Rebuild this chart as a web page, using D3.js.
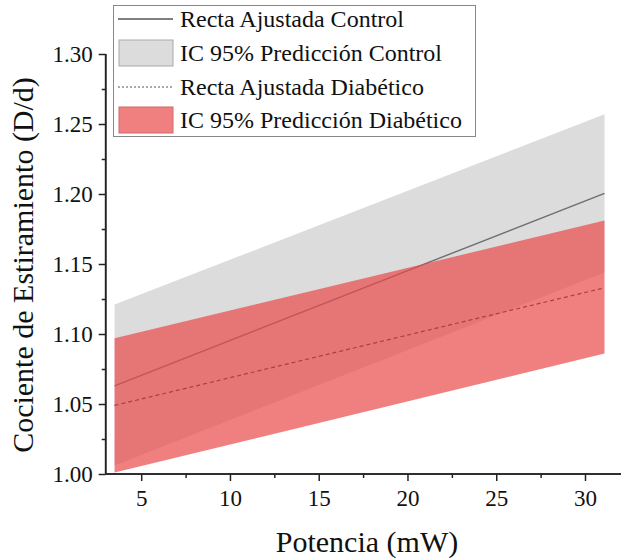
<!DOCTYPE html>
<html>
<head>
<meta charset="utf-8">
<script src="https://cdn.jsdelivr.net/npm/d3@7/dist/d3.min.js"></script>
<style>
  html, body { margin: 0; padding: 0; background: #fff; }
  svg text { font-family: "Liberation Serif", "Times New Roman", serif; fill: #111; }
</style>
</head>
<body>
<svg id="chart" width="621" height="560"></svg>
<script>
// ---- data ----
const xEnds = [3.5, 31.1];                 // Potencia (mW) at band start / end
const controlFit = [1.063, 1.2005];
const controlUpper = [1.121, 1.257];
const controlLower = [1.006, 1.144];
const diabFit = [1.049, 1.133];
const diabUpper = [1.097, 1.181];
const diabLower = [1.001, 1.086];
const xTicks = [5, 10, 15, 20, 25, 30];
const yTicks = [1.00, 1.05, 1.10, 1.15, 1.20, 1.25, 1.30];
const legendLabels = ["Recta Ajustada Control", "IC 95% Predicción Control",
                      "Recta Ajustada Diabético", "IC 95% Predicción Diabético"];
const xTitle = "Potencia (mW)";
const yTitle = "Cociente de Estiramiento (D/d)";

// ---- layout ----
const svg = d3.select("#chart");
const x = d3.scaleLinear().domain([3, 32]).range([105.7, 620.5]);
const y = d3.scaleLinear().domain([1.0, 1.30]).range([474, 54]);

const pts = (arr) => xEnds.map((xv, i) => [xv, arr[i]]);
const band = (lo, hi) => xEnds.map((xv, i) => ({x: xv, lo: lo[i], hi: hi[i]}));
const area = d3.area().x(d => x(d.x)).y0(d => y(d.lo)).y1(d => y(d.hi));
const line = d3.line().x(d => x(d[0])).y(d => y(d[1]));

const gray = "#dcdcdc";
const red = "rgba(234,74,74,0.7)";

svg.append("path").datum(band(controlLower, controlUpper))
  .attr("d", area).attr("fill", gray);
svg.append("path").datum(pts(controlFit))
  .attr("d", line).attr("fill", "none").attr("stroke", "#6e6e6e").attr("stroke-width", 1.4);
svg.append("path").datum(pts(diabFit))
  .attr("d", line).attr("fill", "none").attr("stroke", "#222").attr("stroke-width", 1.2)
  .attr("stroke-dasharray", "4,3");
svg.append("path").datum(band(diabLower, diabUpper))
  .attr("d", area).attr("fill", red);

// ---- axes ----
const axisColor = "#222";
const gx = svg.append("g").attr("transform", "translate(0,474)");
gx.call(d3.axisBottom(x).tickValues(xTicks).tickSize(7).tickPadding(9).tickFormat(d3.format("d")));
gx.append("g").call(d3.axisBottom(x).tickValues(d3.range(2.5, 32.1, 2.5).filter(v => v % 5 !== 0 && v >= 3)).tickSize(4).tickFormat(""));
const gy = svg.append("g").attr("transform", "translate(105.7,0)");
gy.call(d3.axisLeft(y).tickValues(yTicks).tickSize(7).tickPadding(6).tickFormat(d3.format(".2f")));
gy.append("g").call(d3.axisLeft(y).tickValues([1.025, 1.075, 1.125, 1.175, 1.225, 1.275]).tickSize(4).tickFormat(""));

svg.selectAll(".domain").attr("stroke", axisColor).attr("stroke-width", 1.6);
svg.selectAll(".tick line").attr("stroke", axisColor).attr("stroke-width", 1.5);
svg.selectAll(".tick text").attr("font-size", 23).attr("font-family", "Liberation Serif").attr("fill", "#111");
gy.selectAll(".domain").attr("d", "M0,474V54");
gx.selectAll(".domain").attr("d", "M105.7,0H621");
gy.select("g").selectAll(".domain").remove();
gx.select("g").selectAll(".domain").remove();

// ---- titles ----
svg.append("text").attr("x", 367).attr("y", 552).attr("text-anchor", "middle")
  .attr("font-size", 30).text(xTitle);
svg.append("text").attr("transform", "translate(33,265) rotate(-90)")
  .attr("text-anchor", "middle").attr("font-size", 30).text(yTitle);

// ---- legend ----
const lg = svg.append("g");
lg.append("rect").attr("x", 113.5).attr("y", 5.5).attr("width", 362).attr("height", 131)
  .attr("fill", "#fff").attr("stroke", "#888").attr("stroke-width", 1);
const rowY = [19, 53, 87, 120];
lg.append("line").attr("x1", 118).attr("x2", 173).attr("y1", rowY[0]).attr("y2", rowY[0])
  .attr("stroke", "#555").attr("stroke-width", 1.4);
lg.append("rect").attr("x", 119).attr("y", rowY[1] - 13).attr("width", 54).attr("height", 26)
  .attr("fill", gray).attr("stroke", "#aaa").attr("stroke-width", 1);
lg.append("line").attr("x1", 118).attr("x2", 173).attr("y1", rowY[2]).attr("y2", rowY[2])
  .attr("stroke", "#555").attr("stroke-width", 1.1).attr("stroke-dasharray", "2,2");
lg.append("rect").attr("x", 119).attr("y", rowY[3] - 13).attr("width", 54).attr("height", 26)
  .attr("fill", "#f08080").attr("stroke", "#d06a6a").attr("stroke-width", 1);
lg.selectAll("text.lab").data(legendLabels).enter().append("text")
  .attr("class", "lab").attr("x", 180).attr("y", (d, i) => rowY[i])
  .attr("dy", "0.34em").attr("font-size", 24).text(d => d);
</script>
</body>
</html>
